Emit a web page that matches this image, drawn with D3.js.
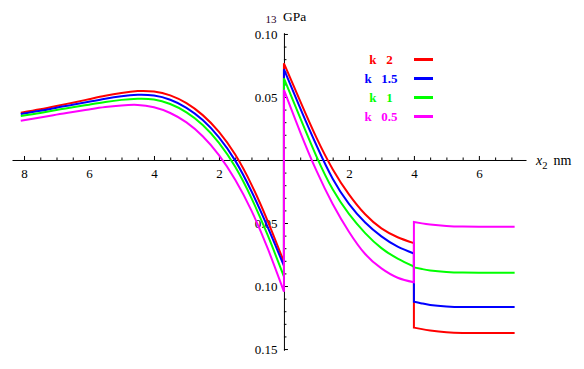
<!DOCTYPE html>
<html>
<head>
<meta charset="utf-8">
<script src="https://cdn.jsdelivr.net/npm/d3@7"></script>
<style>
  body { margin: 0; background: #fff; }
  svg { display: block; }
  .tick text { font-family: 'Liberation Serif', 'Times New Roman', serif; font-size: 13px; fill: #000; }
  .legend text { font-family: 'Liberation Serif', 'Times New Roman', serif; font-size: 13px; font-weight: bold; white-space: pre; }
  .label { font-family: 'Liberation Serif', 'Times New Roman', serif; }
</style>
</head>
<body>
<div id="chart"></div>
<script>
const WIDTH = 584
const HEIGHT = 369

// x positions of the three regions (jumps at 0 and 4)
const xLeft = [-8.1, -7.5, -7, -6.5, -6, -5.5, -5, -4.5, -4, -3.5, -3, -2.5, -2, -1.5, -1, -0.5, 0]
const xMid = [0, 0.5, 1, 1.5, 2, 2.5, 3, 3.5, 4]
const xOuter = [4, 4.25, 4.5, 5, 5.5, 6, 7.1]

const kLabels = ['2', '1.5', '1', '0.5']
const colors = ['#ff0000', '#0000ff', '#00ff00', '#ff00ff']

// k = 2
const leftK2 = [0.0375, 0.0402, 0.0428, 0.0455, 0.0482, 0.0509, 0.0532, 0.0547, 0.0543, 0.0513, 0.0451, 0.0356, 0.0223, 0.0043, -0.0195, -0.0485, -0.081]
const midK2 = [0.0767, 0.0467, 0.0177, -0.0073, -0.0273, -0.0431, -0.0543, -0.0613, -0.066]
const outerK2 = [-0.133, -0.1342, -0.1352, -0.1366, -0.1372, -0.1373, -0.1373]
// k = 1.5
const leftK15 = [0.0365, 0.039, 0.0415, 0.0438, 0.0462, 0.0486, 0.0506, 0.0517, 0.0511, 0.0478, 0.0414, 0.0317, 0.018, -0.0005, -0.0248, -0.0533, -0.084]
const midK15 = [0.072, 0.0412, 0.0117, -0.0148, -0.0348, -0.0496, -0.0606, -0.0688, -0.0742]
const outerK15 = [-0.1124, -0.1138, -0.115, -0.1162, -0.1167, -0.1167, -0.1167]
// k = 1
const leftK1 = [0.0349, 0.0373, 0.0397, 0.0418, 0.0439, 0.046, 0.0477, 0.0486, 0.048, 0.0444, 0.0378, 0.0278, 0.0136, -0.0054, -0.0302, -0.0597, -0.0926]
const midK1 = [0.0648, 0.0334, 0.0029, -0.0233, -0.0428, -0.058, -0.0699, -0.0782, -0.0845]
const outerK1 = [-0.0852, -0.0865, -0.0876, -0.0888, -0.0893, -0.0894, -0.0894]
// k = 0.5
const leftK05 = [0.0312, 0.0337, 0.036, 0.0381, 0.0401, 0.042, 0.0433, 0.0437, 0.0418, 0.0373, 0.0298, 0.0188, 0.0038, -0.0157, -0.0402, -0.0702, -0.1045]
const midK05 = [0.0556, 0.0222, -0.0085, -0.0349, -0.0569, -0.0746, -0.086, -0.0934, -0.097]
const outerK05 = [-0.0492, -0.0503, -0.0512, -0.0523, -0.0528, -0.0529, -0.0529]

const series = [
  [leftK2, midK2, outerK2],
  [leftK15, midK15, outerK15],
  [leftK1, midK1, outerK1],
  [leftK05, midK05, outerK05]
]

const xMajor = [-8, -6, -4, -2, 2, 4, 6]
const yMajor = [0.1, 0.05, -0.05, -0.1, -0.15]

const svg = d3.select('#chart')
  .append('svg')
  .attr('width', WIDTH)
  .attr('height', HEIGHT)

const x = d3.scaleLinear().domain([-8.37, 7.45]).range([12, 526])
const y = d3.scaleLinear().domain([-0.151, 0.101]).range([350.3, 32.7])

// minor ticks
const xMinor = d3.range(-16, 15).map(i => i / 2).filter(v => v !== 0 && !xMajor.includes(v))
const yMinor = d3.range(-15, 11).map(i => i / 100).filter(v => Math.abs(v) > 1e-9 && !yMajor.some(m => Math.abs(m - v) < 1e-9))

const gx = svg.append('g').attr('transform', `translate(0,${y(0)})`)
gx.call(d3.axisBottom(x).tickValues(xMinor).tickSizeInner(-2.5).tickSizeOuter(0).tickFormat(''))
gx.append('g').call(d3.axisBottom(x).tickValues(xMajor).tickSizeInner(-4).tickSizeOuter(0).tickPadding(8.5)
  .tickFormat(d => Math.abs(d)))
  .call(g => g.select('.domain').remove())

const gy = svg.append('g').attr('transform', `translate(${x(0)},0)`)
gy.call(d3.axisLeft(y).tickValues(yMinor).tickSizeInner(-2.5).tickSizeOuter(0).tickFormat(''))
gy.append('g').call(d3.axisLeft(y).tickValues(yMajor).tickSizeInner(-4).tickSizeOuter(0).tickPadding(6.5)
  .tickFormat(d => d3.format('.2f')(Math.abs(d))))
  .call(g => g.select('.domain').remove())

svg.selectAll('.domain, .tick line').attr('stroke', '#000').attr('stroke-width', 1)

// axis labels
svg.append('text')
  .attr('class', 'label')
  .attr('x', 265.5)
  .attr('y', 22.5)
  .attr('font-size', 11)
  .attr('fill', '#2a002a')
  .text('13')
svg.append('text')
  .attr('class', 'label')
  .attr('x', 283)
  .attr('y', 20.5)
  .attr('font-size', 13.5)
  .text('GPa')

const xLabel = svg.append('text')
  .attr('class', 'label')
  .attr('x', 536)
  .attr('y', 165)
  .attr('font-size', 14)
xLabel.append('tspan').attr('font-style', 'italic').text('x')
xLabel.append('tspan').attr('font-size', 10.5).attr('dy', 3.5).text('2')
xLabel.append('tspan').attr('dy', -3.5).attr('dx', 6).text('nm')

// curves
const line = d3.line()
  .x(d => x(d[0]))
  .y(d => y(d[1]))
  .curve(d3.curveNatural)

const regions = [xLeft, xMid, xOuter]
series.forEach((parts, i) => {
  const d = parts.map((vals, j) => {
    const p = line(regions[j].map((xv, n) => [xv, vals[n]]))
    return j === 0 ? p : 'L' + p.slice(1)
  }).join('')
  svg.append('path')
    .attr('d', d)
    .attr('fill', 'none')
    .attr('stroke', colors[i])
    .attr('stroke-width', 2)
})

// legend
const legend = svg.append('g').attr('class', 'legend')
kLabels.forEach((k, i) => {
  const cy = 59.5 + i * 19
  legend.append('text')
    .attr('x', 381)
    .attr('y', cy + 4.5)
    .attr('text-anchor', 'middle')
    .attr('fill', colors[i])
    .text('k\u00a0\u00a0\u00a0' + k)
  legend.append('line')
    .attr('x1', 414)
    .attr('x2', 433)
    .attr('y1', cy)
    .attr('y2', cy)
    .attr('stroke', colors[i])
    .attr('stroke-width', 3)
})
</script>
</body>
</html>
